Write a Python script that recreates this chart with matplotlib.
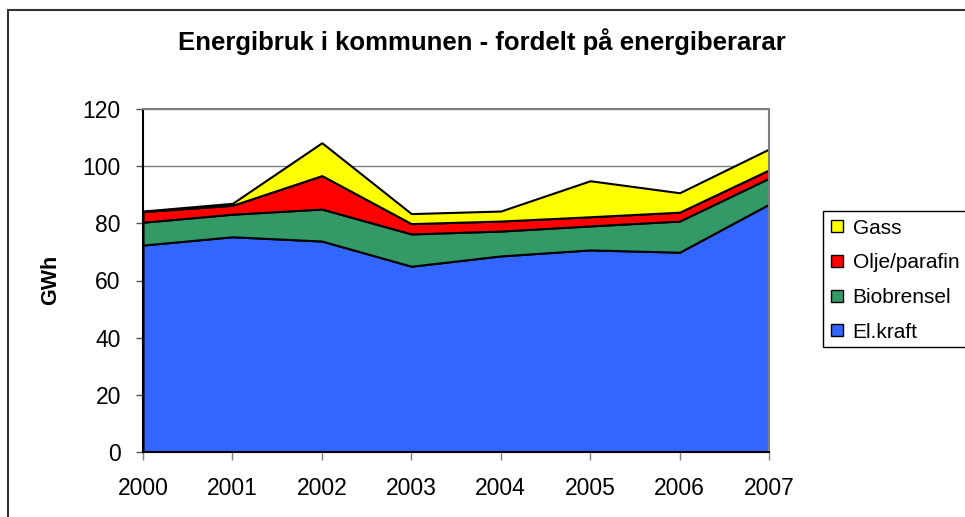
import matplotlib
matplotlib.use("Agg")
import matplotlib.pyplot as plt
from matplotlib.patches import Rectangle
from matplotlib.lines import Line2D

plt.rcParams['font.family'] = ['Liberation Sans', 'DejaVu Sans']

years = ['2000', '2001', '2002', '2003', '2004', '2005', '2006', '2007']
el_kraft = [72.4, 75.3, 73.8, 65.0, 68.6, 70.7, 69.9, 86.7]
biobrensel = [8.0, 7.9, 11.2, 11.3, 8.7, 8.4, 10.9, 9.1]
olje_parafin = [3.7, 3.1, 11.7, 3.6, 3.5, 3.2, 3.1, 2.9]
gass = [0.2, 0.7, 11.5, 3.5, 3.5, 12.6, 6.8, 7.3]
series_names = ['El.kraft', 'Biobrensel', 'Olje/parafin', 'Gass']
colors = ['#3366FF', '#339966', '#FF0000', '#FFFF00']
yticks = [0, 20, 40, 60, 80, 100, 120]

W, H = 965, 517
fig = plt.figure(figsize=(W / 100, H / 100), dpi=100)
ax = fig.add_axes([143 / W, 1 - 452 / H, (769 - 143) / W, (452 - 109) / H])

x = list(range(len(years)))
ax.stackplot(x, el_kraft, biobrensel, olje_parafin, gass, colors=colors,
             edgecolor='black', linewidth=1.5, zorder=2)

ax.set_xlim(0, len(years) - 1)
ax.set_ylim(0, 120)
ax.set_yticks(yticks)
ax.set_xticks(x)
ax.set_xticklabels(years)
ax.yaxis.grid(True, color='#808080', linewidth=1)
ax.set_axisbelow(True)
ax.tick_params(axis='y', direction='out', length=5, width=1, color='#555555',
               labelsize=16.5, pad=11)
ax.tick_params(axis='x', direction='out', length=6, width=1, color='#808080',
               labelsize=16.5, pad=12)
for s in ['left', 'bottom']:
    ax.spines[s].set_color('black')
    ax.spines[s].set_linewidth(1.5)
for s in ['top', 'right']:
    ax.spines[s].set_color('#808080')
    ax.spines[s].set_linewidth(1.5)

fig.text(482 / W, 1 - 42 / H, 'Energibruk i kommunen - fordelt på energiberarar',
         ha='center', va='center', fontsize=18.5, fontweight='bold')
fig.text(51 / W, 1 - 280 / H, 'GWh', ha='center', va='center', rotation=90,
         fontsize=15.5, fontweight='bold')

# outer chart frame
fig.patches.append(Rectangle((8 / W, -0.1), 1.2, 1 - 10 / H + 0.1,
                             transform=fig.transFigure, fill=False,
                             edgecolor='#333333', linewidth=1.5))

# legend frame
fig.patches.append(Rectangle((823 / W, 1 - 347 / H), 0.3, (347 - 211) / H,
                             transform=fig.transFigure, fill=False,
                             edgecolor='black', linewidth=1))
handles = [Line2D([], [], marker='s', linestyle='none', markersize=8,
                  markerfacecolor=c, markeredgecolor='black', markeredgewidth=1)
           for c in colors[::-1]]
fig.legend(handles, series_names[::-1], loc='upper left',
           bbox_to_anchor=(813 / W, 1 - 202 / H), frameon=False,
           fontsize=15, handlelength=0.7, handletextpad=0.4,
           labelspacing=0.75, borderpad=0.3)

fig.savefig('out.png', dpi=100)
